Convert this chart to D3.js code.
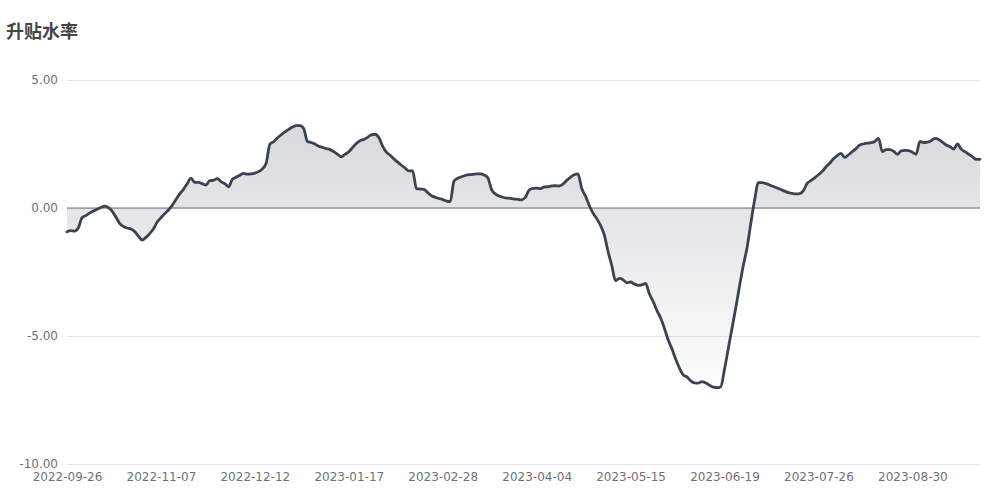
<!DOCTYPE html>
<html>
<head>
<meta charset="utf-8">
<script src="https://cdn.jsdelivr.net/npm/d3@7"></script>
<style>
  html, body { margin: 0; padding: 0; background: #fff; }
  svg { display: block; }
</style>
</head>
<body>
<svg id="chart" width="1000" height="500"></svg>
<script>
const chartTitle = "升贴水率";
const tickLabels = ["2022-09-26","2022-11-07","2022-12-12","2023-01-17","2023-02-28","2023-04-04","2023-05-15","2023-06-19","2023-07-26","2023-08-30"];
const tickEvery = 25;
const yTicks = [5, 0, -5, -10];
const values = [
-0.93,-0.88,-0.90,-0.78,-0.38,-0.30,-0.20,-0.12,-0.05,0.02,
0.07,0.02,-0.12,-0.35,-0.60,-0.72,-0.78,-0.82,-0.92,-1.10,
-1.25,-1.15,-1.00,-0.82,-0.55,-0.38,-0.22,-0.08,0.10,0.33,
0.55,0.73,0.95,1.17,1.00,1.00,0.95,0.90,1.07,1.08,
1.15,1.03,0.95,0.83,1.12,1.20,1.28,1.35,1.32,1.33,
1.36,1.42,1.53,1.75,2.49,2.59,2.74,2.86,2.97,3.07,
3.16,3.22,3.22,3.10,2.60,2.56,2.50,2.41,2.37,2.32,
2.28,2.20,2.10,2.00,2.10,2.20,2.36,2.52,2.63,2.68,
2.76,2.86,2.88,2.75,2.42,2.18,2.06,1.92,1.79,1.67,
1.56,1.45,1.45,0.76,0.74,0.73,0.60,0.48,0.42,0.37,
0.33,0.27,0.25,1.05,1.16,1.22,1.27,1.30,1.31,1.33,
1.33,1.29,1.18,0.72,0.55,0.47,0.42,0.39,0.38,0.35,
0.34,0.32,0.42,0.70,0.77,0.78,0.76,0.82,0.83,0.86,
0.87,0.86,0.93,1.08,1.20,1.30,1.33,0.76,0.47,0.10,
-0.20,-0.42,-0.68,-1.05,-1.70,-2.25,-2.84,-2.75,-2.80,-2.92,
-2.89,-2.97,-3.02,-3.00,-2.95,-3.35,-3.65,-4.00,-4.30,-4.70,
-5.15,-5.50,-5.90,-6.25,-6.52,-6.60,-6.75,-6.83,-6.84,-6.78,
-6.84,-6.92,-7.00,-7.02,-6.98,-6.30,-5.50,-4.70,-3.90,-3.05,
-2.25,-1.55,-0.60,0.30,0.99,0.99,0.95,0.90,0.84,0.78,
0.72,0.66,0.60,0.57,0.55,0.56,0.68,0.96,1.07,1.18,
1.30,1.43,1.60,1.75,1.92,2.05,2.13,1.98,2.08,2.20,
2.32,2.46,2.50,2.53,2.55,2.60,2.72,2.20,2.28,2.28,
2.22,2.10,2.23,2.25,2.24,2.18,2.10,2.60,2.55,2.57,
2.63,2.72,2.68,2.57,2.46,2.40,2.30,2.50,2.30,2.20,
2.10,2.00,1.90,1.90
];

const svg = d3.select("#chart");
const plotL = 67, plotR = 980, plotT = 80, plotB = 464;

const x = d3.scaleLinear().domain([0, values.length - 1]).range([plotL, plotR]);
const y = d3.scaleLinear().domain([-10, 5]).range([plotB, plotT]);

// title
svg.append("text")
  .attr("x", 6).attr("y", 38)
  .attr("font-family", "'Noto Sans CJK SC', sans-serif")
  .attr("font-size", 18).attr("font-weight", "bold")
  .attr("fill", "#464646")
  .text(chartTitle);

// y grid + labels
const yAxis = d3.axisLeft(y).tickValues(yTicks).tickSize(-(plotR - plotL)).tickPadding(9)
  .tickFormat(d => d.toFixed(2));
const gy = svg.append("g").attr("transform", `translate(${plotL},0)`).call(yAxis);
gy.select(".domain").remove();
gy.selectAll(".tick line").attr("stroke", "#e0e6f1").attr("stroke-width", 1);
gy.selectAll(".tick text").attr("fill", "#6e7079").attr("font-size", 12)
  .attr("font-family", "'DejaVu Sans', sans-serif");

// gradient
const defs = svg.append("defs");
const grad = defs.append("linearGradient").attr("id", "areaGrad")
  .attr("x1", 0).attr("y1", 0).attr("x2", 0).attr("y2", 1);
grad.append("stop").attr("offset", "0%").attr("stop-color", "#3c4350").attr("stop-opacity", 0.2);
grad.append("stop").attr("offset", "100%").attr("stop-color", "#3c4350").attr("stop-opacity", 0.01);

const curve = d3.curveMonotoneX;
const area = d3.area().x((d, i) => x(i)).y0(y(0)).y1(d => y(d)).curve(curve);
svg.append("path").datum(values).attr("d", area).attr("fill", "url(#areaGrad)");

// zero axis line
svg.append("line").attr("x1", plotL).attr("x2", plotR).attr("y1", y(0)).attr("y2", y(0))
  .attr("stroke", "#6e7079").attr("stroke-width", 1);

const xAxis = d3.axisBottom(x)
  .tickValues(tickLabels.map((_, i) => i * tickEvery))
  .tickSize(0).tickPadding(0)
  .tickFormat((d, i) => tickLabels[i]);
const gx = svg.append("g").attr("transform", `translate(0,${plotB + 8})`).call(xAxis);
gx.select(".domain").remove();
gx.selectAll(".tick text").attr("fill", "#6e7079").attr("font-size", 12)
  .attr("font-family", "'DejaVu Sans', sans-serif").attr("dy", "0.71em");

// line
const line = d3.line().x((d, i) => x(i)).y(d => y(d)).curve(curve);
svg.append("path").datum(values).attr("d", line)
  .attr("fill", "none").attr("stroke", "#3c4350").attr("stroke-width", 2.8)
  .attr("stroke-linejoin", "round").attr("stroke-linecap", "round");
</script>
</body>
</html>
